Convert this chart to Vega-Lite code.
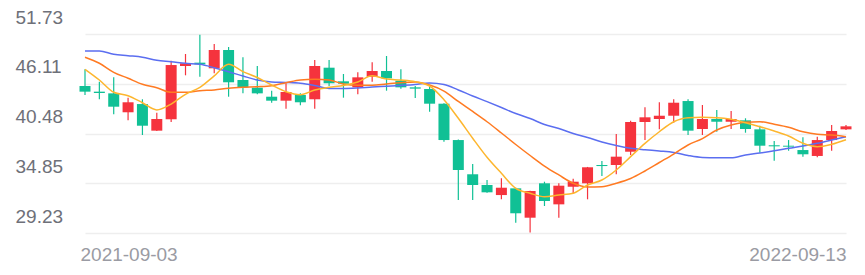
{
  "$schema": "https://vega.github.io/schema/vega-lite/v6.json",
  "width": 840,
  "height": 199,
  "autosize": "none",
  "padding": {"left": 15, "top": 34, "right": 10, "bottom": 42},
  "background": "white",
  "config": {"view": {"stroke": null}, "font": "Liberation Sans"},
  "data": {"values": [
    {"date": "2021-09-03", "open": 45.85, "high": 47.74, "low": 44.83, "close": 45.21, "ma5": 47.74, "ma10": 49.10, "ma20": 49.81},
    {"date": "2021-09-10", "open": 45.21, "high": 46.34, "low": 44.35, "close": 45.06, "ma5": 46.53, "ma10": 48.42, "ma20": 49.81},
    {"date": "2021-09-17", "open": 45.02, "high": 46.83, "low": 42.65, "close": 43.51, "ma5": 45.14, "ma10": 47.40, "ma20": 49.45},
    {"date": "2021-09-24", "open": 42.88, "high": 44.53, "low": 41.97, "close": 44.01, "ma5": 44.75, "ma10": 46.72, "ma20": 49.28},
    {"date": "2021-09-30", "open": 43.81, "high": 44.35, "low": 40.31, "close": 41.36, "ma5": 43.96, "ma10": 46.04, "ma20": 49.10},
    {"date": "2021-10-08", "open": 40.80, "high": 42.83, "low": 40.75, "close": 42.12, "ma5": 43.14, "ma10": 45.66, "ma20": 48.75},
    {"date": "2021-10-15", "open": 42.09, "high": 48.71, "low": 41.78, "close": 48.22, "ma5": 43.81, "ma10": 45.14, "ma20": 48.60},
    {"date": "2021-10-22", "open": 48.11, "high": 49.47, "low": 47.06, "close": 48.42, "ma5": 44.91, "ma10": 45.14, "ma20": 48.42},
    {"date": "2021-10-29", "open": 48.49, "high": 51.65, "low": 46.90, "close": 48.30, "ma5": 45.70, "ma10": 45.32, "ma20": 48.30},
    {"date": "2021-11-05", "open": 47.85, "high": 50.60, "low": 47.29, "close": 49.92, "ma5": 47.00, "ma10": 45.40, "ma20": 47.92},
    {"date": "2021-11-12", "open": 49.92, "high": 50.26, "low": 44.64, "close": 46.27, "ma5": 48.30, "ma10": 45.59, "ma20": 47.47},
    {"date": "2021-11-19", "open": 46.53, "high": 49.10, "low": 45.02, "close": 45.70, "ma5": 47.47, "ma10": 45.70, "ma20": 46.98},
    {"date": "2021-11-26", "open": 45.66, "high": 48.11, "low": 44.91, "close": 45.02, "ma5": 46.81, "ma10": 45.77, "ma20": 46.53},
    {"date": "2021-12-03", "open": 44.64, "high": 45.32, "low": 43.96, "close": 44.19, "ma5": 45.96, "ma10": 45.89, "ma20": 46.30},
    {"date": "2021-12-10", "open": 44.19, "high": 46.16, "low": 43.28, "close": 45.17, "ma5": 45.21, "ma10": 46.22, "ma20": 46.25},
    {"date": "2021-12-17", "open": 44.83, "high": 45.02, "low": 43.67, "close": 44.01, "ma5": 44.87, "ma10": 46.53, "ma20": 46.16},
    {"date": "2021-12-24", "open": 44.35, "high": 48.79, "low": 43.28, "close": 48.11, "ma5": 45.40, "ma10": 46.61, "ma20": 45.90},
    {"date": "2021-12-31", "open": 47.92, "high": 48.79, "low": 45.85, "close": 46.16, "ma5": 45.70, "ma10": 46.53, "ma20": 45.57},
    {"date": "2022-01-07", "open": 46.38, "high": 47.21, "low": 44.53, "close": 46.11, "ma5": 45.90, "ma10": 46.08, "ma20": 45.57},
    {"date": "2022-01-14", "open": 45.70, "high": 47.40, "low": 44.91, "close": 46.83, "ma5": 46.30, "ma10": 45.93, "ma20": 45.63},
    {"date": "2022-01-21", "open": 46.90, "high": 48.53, "low": 46.34, "close": 47.55, "ma5": 47.00, "ma10": 45.93, "ma20": 45.74},
    {"date": "2022-01-28", "open": 47.55, "high": 49.24, "low": 45.32, "close": 46.72, "ma5": 46.64, "ma10": 46.08, "ma20": 45.82},
    {"date": "2022-02-11", "open": 46.45, "high": 47.74, "low": 45.55, "close": 45.70, "ma5": 46.53, "ma10": 46.22, "ma20": 45.91},
    {"date": "2022-02-18", "open": 45.70, "high": 45.85, "low": 44.49, "close": 45.55, "ma5": 46.34, "ma10": 46.30, "ma20": 46.02},
    {"date": "2022-02-25", "open": 45.51, "high": 45.79, "low": 42.94, "close": 43.85, "ma5": 45.85, "ma10": 45.96, "ma20": 46.19},
    {"date": "2022-03-04", "open": 43.85, "high": 43.90, "low": 39.55, "close": 39.74, "ma5": 44.30, "ma10": 45.28, "ma20": 46.02},
    {"date": "2022-03-11", "open": 39.74, "high": 39.80, "low": 32.96, "close": 36.35, "ma5": 42.20, "ma10": 44.10, "ma20": 45.40},
    {"date": "2022-03-18", "open": 35.87, "high": 37.03, "low": 32.96, "close": 34.66, "ma5": 39.94, "ma10": 42.97, "ma20": 44.72},
    {"date": "2022-03-25", "open": 34.66, "high": 35.22, "low": 33.78, "close": 33.83, "ma5": 37.79, "ma10": 41.81, "ma20": 44.08},
    {"date": "2022-04-01", "open": 33.52, "high": 35.41, "low": 33.04, "close": 34.35, "ma5": 35.98, "ma10": 40.54, "ma20": 43.42},
    {"date": "2022-04-08", "open": 34.28, "high": 34.35, "low": 30.39, "close": 31.46, "ma5": 34.28, "ma10": 39.24, "ma20": 42.74},
    {"date": "2022-04-15", "open": 30.96, "high": 34.00, "low": 29.30, "close": 33.98, "ma5": 33.72, "ma10": 37.99, "ma20": 42.18},
    {"date": "2022-04-22", "open": 34.85, "high": 35.03, "low": 32.28, "close": 32.85, "ma5": 33.33, "ma10": 36.80, "ma20": 41.50},
    {"date": "2022-04-29", "open": 32.47, "high": 34.85, "low": 30.96, "close": 34.58, "ma5": 33.53, "ma10": 35.79, "ma20": 41.05},
    {"date": "2022-05-06", "open": 34.46, "high": 35.37, "low": 33.72, "close": 35.03, "ma5": 33.72, "ma10": 34.85, "ma20": 40.48},
    {"date": "2022-05-13", "open": 34.85, "high": 36.70, "low": 33.04, "close": 36.66, "ma5": 34.66, "ma10": 34.43, "ma20": 40.03},
    {"date": "2022-05-20", "open": 36.92, "high": 37.37, "low": 35.67, "close": 36.80, "ma5": 35.22, "ma10": 34.46, "ma20": 39.52},
    {"date": "2022-05-27", "open": 36.92, "high": 40.42, "low": 35.87, "close": 37.86, "ma5": 36.35, "ma10": 34.85, "ma20": 39.12},
    {"date": "2022-06-02", "open": 38.42, "high": 41.93, "low": 38.05, "close": 41.78, "ma5": 37.86, "ma10": 35.39, "ma20": 38.81},
    {"date": "2022-06-10", "open": 41.78, "high": 43.44, "low": 39.74, "close": 42.31, "ma5": 39.37, "ma10": 36.24, "ma20": 38.64},
    {"date": "2022-06-17", "open": 42.12, "high": 44.01, "low": 40.95, "close": 42.49, "ma5": 40.68, "ma10": 37.20, "ma20": 38.50},
    {"date": "2022-06-24", "open": 42.49, "high": 44.35, "low": 41.70, "close": 43.96, "ma5": 41.81, "ma10": 38.16, "ma20": 38.33},
    {"date": "2022-07-01", "open": 44.15, "high": 44.35, "low": 40.31, "close": 40.80, "ma5": 42.27, "ma10": 39.18, "ma20": 37.99},
    {"date": "2022-07-08", "open": 40.99, "high": 43.70, "low": 40.31, "close": 42.12, "ma5": 42.31, "ma10": 39.91, "ma20": 37.77},
    {"date": "2022-07-15", "open": 42.12, "high": 43.14, "low": 40.68, "close": 41.81, "ma5": 42.27, "ma10": 40.88, "ma20": 37.74},
    {"date": "2022-07-22", "open": 41.81, "high": 43.02, "low": 40.99, "close": 42.12, "ma5": 42.09, "ma10": 41.44, "ma20": 37.74},
    {"date": "2022-07-29", "open": 41.97, "high": 42.20, "low": 40.57, "close": 40.99, "ma5": 41.70, "ma10": 41.75, "ma20": 38.05},
    {"date": "2022-08-05", "open": 40.95, "high": 41.36, "low": 38.31, "close": 39.10, "ma5": 41.25, "ma10": 41.81, "ma20": 38.27},
    {"date": "2022-08-12", "open": 39.15, "high": 39.63, "low": 37.40, "close": 39.03, "ma5": 40.76, "ma10": 41.52, "ma20": 38.52},
    {"date": "2022-08-19", "open": 39.10, "high": 39.74, "low": 38.53, "close": 38.99, "ma5": 40.20, "ma10": 41.18, "ma20": 38.81},
    {"date": "2022-08-26", "open": 38.61, "high": 40.05, "low": 37.86, "close": 38.13, "ma5": 39.37, "ma10": 40.68, "ma20": 39.07},
    {"date": "2022-09-02", "open": 37.94, "high": 40.12, "low": 37.79, "close": 39.74, "ma5": 38.99, "ma10": 40.39, "ma20": 39.37},
    {"date": "2022-09-09", "open": 39.74, "high": 41.44, "low": 38.53, "close": 40.76, "ma5": 39.26, "ma10": 40.31, "ma20": 39.74},
    {"date": "2022-09-13", "open": 40.95, "high": 41.44, "low": 40.88, "close": 41.29, "ma5": 39.78, "ma10": 40.12, "ma20": 40.12}
  ]},
  "encoding": {
    "x": {
      "field": "date", "type": "ordinal", "sort": null,
      "scale": {"type": "point", "range": [70, 831], "padding": 0},
      "axis": {
        "title": null,
        "values": ["2021-09-03", "2022-09-13"],
        "domain": false, "ticks": false, "tickSize": 0, "grid": false,
        "labelAngle": 0, "labelFontSize": 19, "labelColor": "#9A9BA3",
        "labelBaseline": "alphabetic", "labelPadding": 27,
        "labelAlign": {"condition": {"test": "datum.value == '2021-09-03'", "value": "left"}, "value": "right"},
        "labelOffset": {"condition": {"test": "datum.value == '2021-09-03'", "value": -5}, "value": 0},
        "labelOverlap": false, "labelBound": false, "labelFlush": false
      }
    }
  },
  "layer": [
    {
      "mark": {"type": "rule", "strokeWidth": 1.2},
      "encoding": {
        "y": {
          "field": "low", "type": "quantitative",
          "scale": {"domain": [29.23, 51.73], "nice": false, "zero": false},
          "axis": {
            "title": null,
            "values": [29.23, 34.85, 40.48, 46.11, 51.73],
            "format": ".2f",
            "domain": false, "ticks": false, "tickSize": 0,
            "grid": true, "gridColor": "#EEEEEE", "gridWidth": 1.5,
            "labelAlign": "left", "labelPadding": 0, "labelBaseline": "alphabetic", "labelOffset": -11,
            "labelFontSize": 19, "labelColor": "#6E7079", "labelBound": false, "labelOverlap": false
          }
        },
        "y2": {"field": "high"},
        "color": {"condition": {"test": "datum.close > datum.open", "value": "#F5333D"}, "value": "#10C095"}
      }
    },
    {
      "mark": {"type": "bar", "width": 11},
      "encoding": {
        "y": {"field": "open", "type": "quantitative", "axis": {"title": null}},
        "y2": {"field": "close"},
        "color": {"condition": {"test": "datum.close > datum.open", "value": "#F5333D"}, "value": "#10C095"}
      }
    },
    {
      "mark": {"type": "line", "strokeWidth": 1.5, "interpolate": "monotone", "color": "#5B6EF0"},
      "encoding": {"y": {"field": "ma20", "type": "quantitative", "axis": {"title": null}}}
    },
    {
      "mark": {"type": "line", "strokeWidth": 1.5, "interpolate": "monotone", "color": "#FF7A22"},
      "encoding": {"y": {"field": "ma10", "type": "quantitative", "axis": {"title": null}}}
    },
    {
      "mark": {"type": "line", "strokeWidth": 1.5, "interpolate": "monotone", "color": "#FDB62E"},
      "encoding": {"y": {"field": "ma5", "type": "quantitative", "axis": {"title": null}}}
    }
  ]
}
